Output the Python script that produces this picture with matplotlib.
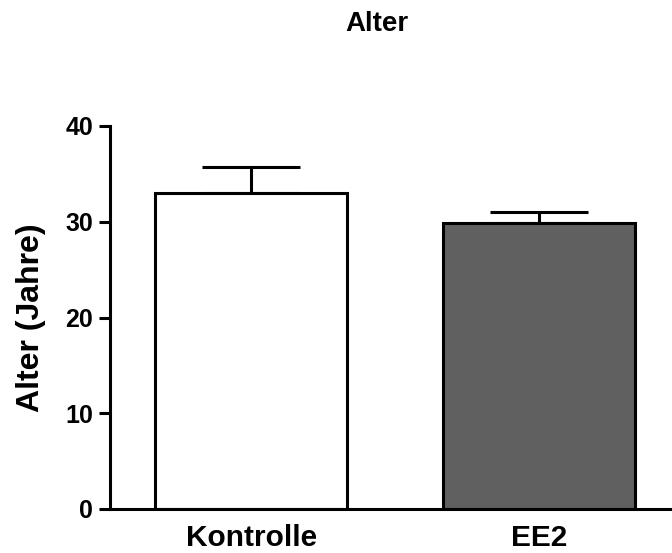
import matplotlib.pyplot as plt

plt.rcParams['font.family'] = ['Liberation Sans', 'DejaVu Sans']
plt.rcParams['font.weight'] = 'bold'

groups = ["Kontrolle", "EE2"]
means = [33.0, 29.9]
sems = [2.7, 1.1]
colors = ["white", "#606060"]

fig = plt.figure(figsize=(6.72, 5.53), dpi=100)
ax = fig.add_axes([110 / 672, 44 / 553, 562 / 672, 383 / 553])

x = range(len(groups))
ax.bar(x, means, width=0.667, color=colors, edgecolor="black", linewidth=2.2, zorder=2)
ax.errorbar(x, means, yerr=[[0] * len(sems), sems], fmt="none", ecolor="black",
            elinewidth=2.2, capsize=35, capthick=2.2, zorder=1)

ax.set_xlim(-0.49, 1.462)
ax.set_ylim(0, 40)
ax.set_yticks([0, 10, 20, 30, 40])
ax.set_xticks(list(x))
ax.set_xticklabels(groups, fontsize=21.5, fontweight="bold")
ax.tick_params(axis="x", length=0, pad=11)
ax.tick_params(axis="y", length=8, width=2.2, pad=4, labelsize=18)
for lab in ax.get_yticklabels():
    lab.set_fontweight("bold")

for s in ["top", "right"]:
    ax.spines[s].set_visible(False)
for s in ["left", "bottom"]:
    ax.spines[s].set_linewidth(2.2)

ax.set_ylabel("Alter (Jahre)", fontsize=23, fontweight="bold")
ax.yaxis.set_label_coords((46 - 110) / 562, 0.5)
fig.text(377 / 672, 1 - 24 / 553, "Alter", ha="center", va="center",
         fontsize=20, fontweight="bold")

fig.savefig("out.png", dpi=100)
